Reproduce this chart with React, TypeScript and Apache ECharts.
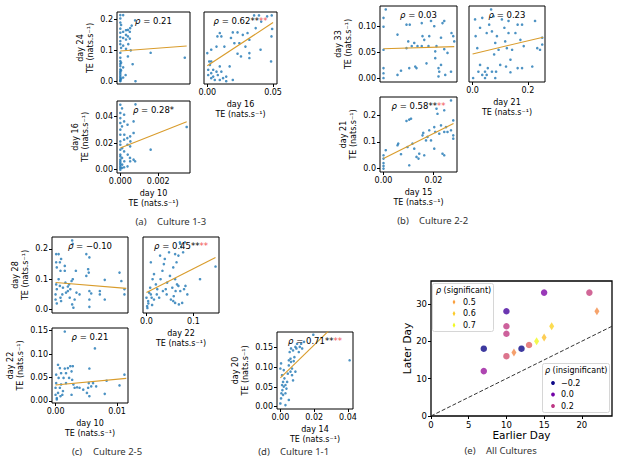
import React, { useEffect, useRef } from "react";
import * as echarts from "echarts";

const FONT = "DejaVu Sans";
const CAP_FONT = "Noto Sans";
const BLUE = "#1f77b4";
const FIT = "#d99c2c";
const RED = "#f25555";
const UNIT = "TE (nats.s\u207B\u00B9)";

// ---------- Culture 1-3 ----------
const c13_d10_d24: number[][] = [
  [0, 0.214], [0, 0.203], [0, 0.19], [0, 0.17], [0, 0.157], [0, 0.143], [0, 0.13], [0, 0.12],
  [0, 0.092], [0, 0.076], [0, 0.065], [0, 0.056], [0, 0.049], [0, 0.038], [0, 0.032], [0, 0.027],
  [0, 0.021], [0, 0.016], [0, 0.011], [0, 0.005], [0, 0.002], [0, 0.0],
  [0.00004, 0.182], [0.00004, 0.108], [0.00004, 0.06], [0.00004, 0.035], [0.00004, 0.008],
  [0.00015, 0.214], [0.00015, 0.16], [0.00015, 0.14], [0.00015, 0.115], [0.00015, 0.045], [0.00015, 0.012],
  [0.0003, 0.165], [0.0003, 0.15], [0.0003, 0.135], [0.0003, 0.105], [0.00028, 0.02],
  [0.0004, 0.166], [0.0004, 0.145], [0.00042, 0.12], [0.0004, 0.08],
  [0.0005, 0.16], [0.00052, 0.172], [0.0005, 0.138], [0.00055, 0.1],
  [0.00065, 0.055], [0.0006, 0.18], [0.00078, 0.197], [0.0008, 0.0],
  [0.0016, 0.092], [0.0034, 0.076],
];
const c13_d10_d24_fit: number[][] = [[0, 0.098], [0.0035, 0.114]];

const c13_d16_d24: number[][] = [
  [0.0356, 0.213], [0.0393, 0.213], [0.0455, 0.21], [0.049, 0.213], [0.041, 0.193], [0.0493, 0.169],
  [0.0095, 0.156], [0.0107, 0.145], [0.0077, 0.145], [0.0194, 0.158], [0.018, 0.14], [0.023, 0.158],
  [0.027, 0.15], [0.0306, 0.156], [0.0244, 0.123], [0.0206, 0.123], [0.029, 0.112], [0.032, 0.134],
  [0.0488, 0.145], [0.0405, 0.102], [0.0368, 0.172], [0.032, 0.091], [0.0256, 0.08], [0.023, 0.089],
  [0.017, 0.048], [0.032, 0.075], [0.007, 0.112], [0.013, 0.112], [0.003, 0.102], [0.0, 0.091],
  [0.0015, 0.064], [0.003, 0.064], [0.002, 0.053], [0.0007, 0.037], [0.003, 0.026], [0.0045, 0.015],
  [0.0007, 0.02], [0.0045, 0.037], [0.007, 0.031], [0.008, 0.02], [0.0095, 0.048], [0.0107, 0.031],
  [0.012, 0.01], [0.0144, 0.0], [0.0194, 0.004], [0.0057, 0.004], [0.0095, 0.004], [0.0485, 0.064],
  [0.003, 0.01], [0.0144, 0.015],
];
const c13_d16_d24_fit: number[][] = [[0, 0.05], [0.05, 0.19]];

const c13_d10_d16: number[][] = [
  [0, 0.0487], [0, 0.0425], [0, 0.0387], [0, 0.035], [0, 0.03], [0, 0.0262], [0, 0.0212], [0, 0.0187],
  [0, 0.015], [0, 0.0113], [0, 0.01], [0, 0.0075], [0, 0.0063], [0, 0.005], [0, 0.0038], [0, 0.0025],
  [0, 0.0013], [0, 0.0],
  [0.00009, 0.046], [0.00009, 0.0325], [0.0001, 0.0162], [0.00009, 0.0088], [0.0001, 0.0038], [0.00009, 0.0013],
  [0.0002, 0.0412], [0.0002, 0.0362], [0.00021, 0.0262], [0.0002, 0.0225], [0.0002, 0.0137], [0.00021, 0.0063], [0.0002, 0.0018],
  [0.00038, 0.0337], [0.00037, 0.0237], [0.00038, 0.0187], [0.00039, 0.0113], [0.00038, 0.0025],
  [0.00052, 0.025], [0.00053, 0.0212], [0.00052, 0.0175], [0.00051, 0.0088], [0.00052, 0.0063],
  [0.0007, 0.0362], [0.0007, 0.0275], [0.0007, 0.0075], [0.00078, 0.0063], [0.0008, 0.049],
  [0.0016, 0.015], [0.0035, 0.032],
];
const c13_d10_d16_fit: number[][] = [[0, 0.0162], [0.0035, 0.036]];

// ---------- Culture 2-2 ----------
const c22_d15_d33: number[][] = [
  [0.0009, 0.132], [0, 0.116], [0, 0.099], [0, 0.055], [0, 0.02], [0, 0.01], [0, 0.001],
  [0.0056, 0.084], [0.0056, 0.007], [0.007, 0.015], [0.0092, 0.103], [0.0105, 0.103], [0.0099, 0.071],
  [0.0092, 0.058], [0.0103, 0.02], [0.0113, 0.062], [0.0123, 0.068], [0.0127, 0.023], [0.0132, 0.02],
  [0.0136, 0.062], [0.0153, 0.106], [0.0156, 0.081], [0.0153, 0.062], [0.0163, 0.074], [0.0172, 0.029],
  [0.018, 0.062], [0.0183, 0.081], [0.019, 0.11], [0.0203, 0.1], [0.0212, 0.062], [0.0207, 0.052],
  [0.0207, 0.039], [0.022, 0.02], [0.0223, 0.013], [0.023, 0.078], [0.0236, 0.106], [0.0243, 0.11],
  [0.0243, 0.056], [0.0247, 0.007], [0.0256, 0.049], [0.027, 0.013], [0.0272, 0.087], [0.0279, 0.081],
  [0.0283, 0.071], [0.022, 0.004], [0.023, 0.026],
];
const c22_d15_d33_fit: number[][] = [[0, 0.057], [0.0283, 0.061]];

const c22_d21_d33: number[][] = [
  [0.002, 0.001], [0.009, 0.113], [0.011, 0.081], [0.017, 0.058], [0.027, 0.026], [0.027, 0.097],
  [0.035, 0.116], [0.067, 0.132], [0.076, 0.119], [0.06, 0.103], [0.07, 0.09], [0.051, 0.087],
  [0.045, 0.013], [0.051, 0.007], [0.055, 0.02], [0.045, 0.001], [0.088, 0.081], [0.078, 0.046],
  [0.082, 0.068], [0.094, 0.055], [0.085, 0.013], [0.106, 0.113], [0.115, 0.097], [0.118, 0.071],
  [0.124, 0.058], [0.13, 0.11], [0.13, 0.087], [0.137, 0.036], [0.143, 0.055], [0.137, 0.012],
  [0.155, 0.087], [0.163, 0.103], [0.173, 0.074], [0.179, 0.103], [0.185, 0.062], [0.163, 0.02],
  [0.179, 0.02], [0.216, 0.023], [0.226, 0.11], [0.234, 0.058], [0.244, 0.055], [0.252, 0.065],
  [0.252, 0.078], [0.021, 0.013], [0.035, 0.007], [0.121, 0.023], [0.1, 0.026], [0.07, 0.013],
  [0.082, 0.001],
];
const c22_d21_d33_fit: number[][] = [[0, 0.047], [0.255, 0.079]];

const c22_d15_d21: number[][] = [
  [0, 0.05], [0, 0.0375], [0, 0.021], [0, 0.01], [0, 0.0], [0.0009, 0.069], [0.0056, 0.0875],
  [0.0059, 0.094], [0.007, 0.054], [0.0092, 0.179], [0.0103, 0.184], [0.011, 0.1875], [0.0096, 0.081],
  [0.0103, 0.0125], [0.0116, 0.094], [0.0123, 0.075], [0.0132, 0.044], [0.014, 0.0375], [0.0143, 0.056],
  [0.0156, 0.125], [0.0159, 0.134], [0.0163, 0.05], [0.017, 0.106], [0.0176, 0.119], [0.0183, 0.144],
  [0.019, 0.106], [0.0203, 0.156], [0.0203, 0.075], [0.0207, 0.1375], [0.0212, 0.225], [0.0216, 0.206],
  [0.0223, 0.131], [0.023, 0.1625], [0.0236, 0.056], [0.0243, 0.05], [0.0243, 0.1375], [0.025, 0.156],
  [0.0256, 0.1375], [0.0243, 0.219], [0.027, 0.256], [0.0279, 0.181], [0.0279, 0.125], [0.0279, 0.1125],
  [0.027, 0.144],
];
const c22_d15_d21_fit: number[][] = [[0, 0.0375], [0.028, 0.169]];

// ---------- Culture 2-5 ----------
const c25_d10_d28: number[][] = [
  [0.0001, 0.183], [0.0001, 0.156], [0.0002, 0.139], [0.0001, 0.083], [0.0002, 0.067], [0, 0.05],
  [0, 0.033], [0.0002, 0.02], [0.0005, 0.183], [0.0007, 0.156], [0.0008, 0.128], [0.0009, 0.167],
  [0.0005, 0.1], [0.0007, 0.078], [0.0009, 0.028], [0.0011, 0.05], [0.0008, 0.039], [0.0012, 0.072],
  [0.0015, 0.144], [0.0015, 0.128], [0.0016, 0.089], [0.0017, 0.056], [0.002, 0.061], [0.002, 0.076],
  [0.0022, 0.083], [0.0023, 0.039], [0.0024, 0.067], [0.0026, 0.094], [0.0027, 0.228], [0.0028, 0.217],
  [0.0029, 0.006], [0.0027, 0.017], [0.0031, 0.033], [0.0034, 0.056], [0.0039, 0.05], [0.005, 0.183],
  [0.0055, 0.172], [0.0053, 0.133], [0.0054, 0.122], [0.005, 0.111], [0.0055, 0.061], [0.0055, 0.033],
  [0.0058, 0.053], [0.0055, 0.009], [0.0072, 0.061], [0.0072, 0.05], [0.008, 0.098], [0.008, 0.033],
  [0.0104, 0.122], [0.0107, 0.094], [0.0112, 0.05], [0.0112, 0.067], [0.0033, 0.128], [0.0028, 0.1],
];
const c25_d10_d28_fit: number[][] = [[0, 0.089], [0.0115, 0.07]];

const c25_d22_d28: number[][] = [
  [0.0, 0.039], [0.0036, 0.028], [0.0014, 0.011], [0.0057, 0.056], [0.0093, 0.05], [0.0093, 0.156],
  [0.0079, 0.072], [0.011, 0.039], [0.013, 0.1], [0.016, 0.033], [0.016, 0.117], [0.02, 0.083],
  [0.022, 0.05], [0.023, 0.067], [0.027, 0.039], [0.029, 0.178], [0.03, 0.1], [0.034, 0.128],
  [0.035, 0.061], [0.037, 0.15], [0.039, 0.167], [0.041, 0.067], [0.043, 0.05], [0.044, 0.089],
  [0.048, 0.189], [0.05, 0.111], [0.052, 0.033], [0.055, 0.072], [0.058, 0.044], [0.062, 0.061],
  [0.065, 0.083], [0.069, 0.017], [0.071, 0.222], [0.074, 0.206], [0.076, 0.022], [0.078, 0.189],
  [0.08, 0.067], [0.083, 0.078], [0.087, 0.05], [0.061, 0.183], [0.072, 0.217], [0.068, 0.178],
  [0.082, 0.222], [0.064, 0.156], [0.057, 0.139], [0.061, 0.1], [0.068, 0.078], [0.072, 0.061],
  [0.057, 0.028], [0.061, 0.022], [0.114, 0.1], [0.147, 0.142], [0.004, 0.02], [0.002, 0.005],
  [0.012, 0.015],
];
const c25_d22_d28_fit: number[][] = [[0, 0.056], [0.147, 0.172]];

const c25_d10_d22: number[][] = [
  [0, 0.013], [0, 0.028], [0.0001, 0.038], [0.0001, 0.056], [0.0002, 0.006], [0.0002, 0.003],
  [0.0004, 0.017], [0.0004, 0.077], [0.0005, 0.049], [0.0007, 0.028], [0.0007, 0.07], [0.0008, 0.01],
  [0.0009, 0.035], [0.0009, 0.059], [0.0011, 0.013], [0.0012, 0.021], [0.0013, 0.049], [0.0015, 0.069],
  [0.0015, 0.148], [0.0017, 0.038], [0.0017, 0.059], [0.002, 0.07], [0.0022, 0.049], [0.0024, 0.074],
  [0.0026, 0.063], [0.0027, 0.045], [0.0028, 0.074], [0.0029, 0.035], [0.0031, 0.028], [0.0026, 0.013],
  [0.0035, 0.029], [0.0039, 0.028], [0.0045, 0.024], [0.0051, 0.017], [0.0053, 0.028], [0.0054, 0.038],
  [0.0055, 0.069], [0.0055, 0.01], [0.0058, 0.031], [0.0061, 0.038], [0.0064, 0.112], [0.0066, 0.031],
  [0.008, 0.015], [0.0083, 0.043], [0.0104, 0.033], [0.0112, 0.056],
];
const c25_d10_d22_fit: number[][] = [[0, 0.034], [0.0115, 0.048]];

// ---------- Culture 1-1 ----------
const c11_d14_d20: number[][] = [
  [0, 0.008], [0.0004, 0.021], [0.0006, 0.034], [0.0012, 0.042], [0.001, 0.055], [0.0016, 0.063],
  [0, 0.097], [0.0004, 0.11], [0.002, 0.093], [0.001, 0.08], [0.0024, 0.072], [0.003, 0.055],
  [0.003, 0.034], [0.0036, 0.046], [0.004, 0.063], [0.0044, 0.084], [0.005, 0.105], [0.005, 0.118],
  [0.0055, 0.139], [0.006, 0.122], [0.0063, 0.114], [0.0069, 0.097], [0.0063, 0.148], [0.0075, 0.143],
  [0.0079, 0.116], [0.0083, 0.126], [0.0089, 0.152], [0.0095, 0.148], [0.0099, 0.16], [0.0109, 0.139],
  [0.0115, 0.152], [0.0123, 0.16], [0.0129, 0.148], [0.0069, 0.08], [0.0075, 0.067], [0.005, 0.017],
  [0.003, 0.004], [0.002, 0.051], [0.0016, 0.03], [0.0089, 0.089], [0.006, 0.089], [0.0195, 0.183],
  [0.041, 0.118], [0.014, 0.165],
];
const c11_d14_d20_fit: number[][] = [[0, 0.073], [0.041, 0.245]];

// ---------- All cultures ----------
// [earlier day, later day, rho]
const significantPairs: number[][] = [
  [11, 17, 0.44], [14, 20, 0.71], [15, 21, 0.58], [16, 24, 0.62], [22, 28, 0.45],
];
const insignificantPairs: number[][] = [
  [7, 18, -0.2], [12, 18, -0.2], [10, 28, -0.1], [15, 33, 0.03], [7, 12, 0.1],
  [10, 24, 0.21], [10, 22, 0.21], [10, 16, 0.28], [21, 33, 0.23], [13, 19, 0.34],
];
const diagonal: number[][] = [[0, 0], [24, 24]];
const sigLegend = [0.5, 0.6, 0.7];
const sigLegendLabels = ["0.5", "0.6", "0.7"];
const insigLegend = [-0.2, 0.0, 0.2];
const insigLegendLabels = ["\u22120.2", "0.0", "0.2"];
const eXTicks = [0, 5, 10, 15, 20];
const eYTicks = [0, 10, 20, 30];

const PLASMA = [
  "#0d0887", "#41049d", "#6a00a8", "#8f0da4", "#b12a90", "#cc4778",
  "#e16462", "#f2844b", "#fca636", "#fcce25", "#f0f921",
];
const RHO_MIN = -0.2;
const RHO_MAX = 0.7;

function plasma(v: number): string {
  let t = (v - RHO_MIN) / (RHO_MAX - RHO_MIN);
  t = Math.max(0, Math.min(1, t));
  const pos = t * (PLASMA.length - 1);
  const i = Math.min(PLASMA.length - 2, Math.floor(pos));
  const f = pos - i;
  const a = PLASMA[i], b = PLASMA[i + 1];
  const ch = (s: string, k: number) => parseInt(s.slice(1 + 2 * k, 3 + 2 * k), 16);
  const c = [0, 1, 2].map((k) => Math.round(ch(a, k) + (ch(b, k) - ch(a, k)) * f));
  return `rgb(${c[0]},${c[1]},${c[2]})`;
}

type Panel = {
  box: [number, number, number, number];
  xr: [number, number];
  yr: [number, number];
  xt?: number[];
  xl?: string[];
  yt?: number[];
  yl?: string[];
  xName?: string;
  yName?: string;
  yGap?: number;
  pts: number[][];
  fit: number[][];
  rho: string;
  stars?: string;
};

const panels: Panel[] = [
  { box: [117, 12, 190, 84], xr: [-0.000175, 0.003675], yr: [-0.009, 0.224], yt: [0, 0.1, 0.2], yl: ["0.0", "0.1", "0.2"],
    yName: "day 24\n" + UNIT, yGap: 22, pts: c13_d10_d24, fit: c13_d10_d24_fit, rho: " = 0.21" },
  { box: [204, 12, 277, 84], xr: [-0.0025, 0.053], yr: [-0.009, 0.224], xt: [0, 0.05], xl: ["0.00", "0.05"],
    xName: "day 16\n" + UNIT, pts: c13_d16_d24, fit: c13_d16_d24_fit, rho: " = 0.62**", stars: "**" },
  { box: [117, 101, 190, 173], xr: [-0.000175, 0.003675], yr: [-0.0025, 0.0515], xt: [0, 0.002], xl: ["0.000", "0.002"],
    yt: [0, 0.02, 0.04], yl: ["0.00", "0.02", "0.04"], xName: "day 10\n" + UNIT, yName: "day 16\n" + UNIT, yGap: 27,
    pts: c13_d10_d16, fit: c13_d10_d16_fit, rho: " = 0.28*" },
  { box: [380, 6, 457, 82], xr: [-0.0014, 0.0294], yr: [-0.0066, 0.1386], yt: [0, 0.05, 0.1], yl: ["0.00", "0.05", "0.10"],
    yName: "day 33\n" + UNIT, yGap: 27, pts: c22_d15_d33, fit: c22_d15_d33_fit, rho: " = 0.03" },
  { box: [469, 6, 545, 82], xr: [-0.013, 0.262], yr: [-0.0066, 0.1386], xt: [0, 0.2], xl: ["0.0", "0.2"],
    xName: "day 21\n" + UNIT, pts: c22_d21_d33, fit: c22_d21_d33_fit, rho: " = 0.23" },
  { box: [380, 97, 457, 172], xr: [-0.0014, 0.0294], yr: [-0.0128, 0.269], xt: [0, 0.02], xl: ["0.00", "0.02"],
    yt: [0, 0.1, 0.2], yl: ["0.0", "0.1", "0.2"], xName: "day 15\n" + UNIT, yName: "day 21\n" + UNIT, yGap: 22,
    pts: c22_d15_d21, fit: c22_d15_d21_fit, rho: " = 0.58**", stars: "**" },
  { box: [52, 237, 128, 313], xr: [-0.00058, 0.01178], yr: [-0.0114, 0.2394], yt: [0, 0.1, 0.2], yl: ["0.0", "0.1", "0.2"],
    yName: "day 28\n" + UNIT, yGap: 22, pts: c25_d10_d28, fit: c25_d10_d28_fit, rho: " = \u22120.10" },
  { box: [143, 237, 219, 313], xr: [-0.0074, 0.1544], yr: [-0.0114, 0.2394], xt: [0, 0.1], xl: ["0.0", "0.1"],
    xName: "day 22\n" + UNIT, pts: c25_d22_d28, fit: c25_d22_d28_fit, rho: " = 0.45**", stars: "**" },
  { box: [52, 328, 128, 403], xr: [-0.00058, 0.01178], yr: [-0.0045, 0.1555], xt: [0, 0.01], xl: ["0.00", "0.01"],
    yt: [0, 0.05, 0.1, 0.15], yl: ["0.00", "0.05", "0.10", "0.15"], xName: "day 10\n" + UNIT, yName: "day 22\n" + UNIT,
    yGap: 27, pts: c25_d10_d22, fit: c25_d10_d22_fit, rho: " = 0.21" },
  { box: [277, 332, 353, 409], xr: [-0.002, 0.043], yr: [-0.006, 0.19], xt: [0, 0.02, 0.04], xl: ["0.00", "0.02", "0.04"],
    yt: [0, 0.05, 0.1, 0.15], yl: ["0.00", "0.05", "0.10", "0.15"], xName: "day 14\n" + UNIT, yName: "day 20\n" + UNIT,
    yGap: 27, pts: c11_d14_d20, fit: c11_d14_d20_fit, rho: " = 0.71**", stars: "**" },
];

const captions = [
  { tag: "(a)", text: "Culture 1-3", x: 141, y: 221 },
  { tag: "(b)", text: "Culture 2-2", x: 403, y: 220 },
  { tag: "(c)", text: "Culture 2-5", x: 77, y: 451 },
  { tag: "(d)", text: "Culture 1-1", x: 264, y: 451 },
  { tag: "(e)", text: "All Cultures", x: 470, y: 450 },
];

const EBOX: [number, number, number, number] = [431, 281, 612, 416];

function labelFmt(ticks: number[], labels: string[]) {
  return (v: number) => {
    const k = ticks.findIndex((t) => Math.abs(t - v) < 1e-9);
    return k >= 0 ? labels[k] : "";
  };
}

const tickText = { fontFamily: FONT, fontSize: 8, color: "#000" };
const nameText = { fontFamily: FONT, fontSize: 8, color: "#000", lineHeight: 10 };

function buildOption() {
  const grid: any[] = [];
  const xAxis: any[] = [];
  const yAxis: any[] = [];
  const series: any[] = [];
  const graphic: any[] = [];

  const allBoxes = [...panels.map((p) => p.box), EBOX];
  allBoxes.forEach((b, i) => {
    grid.push({
      left: b[0], top: b[1], width: b[2] - b[0], height: b[3] - b[1],
      show: true, borderColor: "#000", borderWidth: i === panels.length ? 1.3 : 1,
      backgroundColor: "rgba(0,0,0,0)",
    });
  });

  panels.forEach((p, i) => {
    xAxis.push({
      type: "value", gridIndex: i, min: p.xr[0], max: p.xr[1],
      axisLine: { show: false, onZero: false }, splitLine: { show: false },
      axisTick: p.xt ? { show: true, customValues: p.xt, length: 3, lineStyle: { color: "#000", width: 1 } } : { show: false },
      axisLabel: p.xt ? { show: true, customValues: p.xt, formatter: labelFmt(p.xt, p.xl!), margin: 4, ...tickText } : { show: false },
      name: p.xName, nameLocation: "middle", nameGap: 15, nameTextStyle: nameText,
    });
    yAxis.push({
      type: "value", gridIndex: i, min: p.yr[0], max: p.yr[1],
      axisLine: { show: false, onZero: false }, splitLine: { show: false },
      axisTick: p.yt ? { show: true, customValues: p.yt, length: 3, lineStyle: { color: "#000", width: 1 } } : { show: false },
      axisLabel: p.yt ? { show: true, customValues: p.yt, formatter: labelFmt(p.yt, p.yl!), margin: 4, ...tickText } : { show: false },
      name: p.yName, nameLocation: "middle", nameRotate: 90, nameGap: p.yGap ?? 22, nameTextStyle: nameText,
    });
    series.push({
      type: "scatter", xAxisIndex: i, yAxisIndex: i, data: p.pts, symbolSize: 2.6,
      itemStyle: { color: BLUE }, silent: true,
    });
    series.push({
      type: "line", xAxisIndex: i, yAxisIndex: i, data: p.fit, symbol: "none", showSymbol: false,
      lineStyle: { color: FIT, width: 1.1 }, clip: true, silent: true, z: 3,
    });
    const cx = (p.box[0] + p.box[2]) / 2;
    const cy = p.box[1] + 9;
    graphic.push({
      type: "text", x: cx, y: cy, z: 10,
      style: {
        text: "{i|\u03C1}{n|" + p.rho + "}" + (p.stars ? "{r|" + p.stars + "}" : ""),
        align: "center", verticalAlign: "middle",
        rich: {
          i: { fontFamily: FONT, fontSize: 8.5, fontStyle: "italic", fill: "#000" },
          n: { fontFamily: FONT, fontSize: 8.5, fill: "#000" },
          r: { fontFamily: FONT, fontSize: 8.5, fill: RED },
        },
      },
    });
  });

  // Panel (e)
  const ei = panels.length;
  xAxis.push({
    type: "value", gridIndex: ei, min: 0, max: 24,
    axisLine: { show: false, onZero: false }, splitLine: { show: false },
    axisTick: { show: true, customValues: eXTicks, length: 3, lineStyle: { color: "#000" } },
    axisLabel: { show: true, customValues: eXTicks, formatter: (v: number) => String(v), margin: 4, ...tickText, fontSize: 8.5 },
    name: "Earlier Day", nameLocation: "middle", nameGap: 13,
    nameTextStyle: { fontFamily: FONT, fontSize: 10.5, color: "#000" },
  });
  yAxis.push({
    type: "value", gridIndex: ei, min: 0, max: 36.1,
    axisLine: { show: false, onZero: false }, splitLine: { show: false },
    axisTick: { show: true, customValues: eYTicks, length: 3, lineStyle: { color: "#000" } },
    axisLabel: { show: true, customValues: eYTicks, formatter: (v: number) => String(v), margin: 4, ...tickText, fontSize: 8.5 },
    name: "Later Day", nameLocation: "middle", nameRotate: 90, nameGap: 17,
    nameTextStyle: { fontFamily: FONT, fontSize: 10.5, color: "#000" },
  });
  series.push({
    type: "line", xAxisIndex: ei, yAxisIndex: ei, data: diagonal, symbol: "none",
    lineStyle: { color: "#333", width: 1, type: [4, 2] }, silent: true,
  });
  const circIdx = series.length;
  series.push({
    type: "scatter", xAxisIndex: ei, yAxisIndex: ei, data: insignificantPairs, symbol: "circle",
    symbolSize: 6.5, silent: true, z: 4,
  });
  const diaIdx = series.length;
  series.push({
    type: "scatter", xAxisIndex: ei, yAxisIndex: ei, data: significantPairs, symbol: "diamond",
    symbolSize: [5, 8], silent: true, z: 4,
  });

  // Legends for (e)
  graphic.push({
    type: "rect", shape: { x: 432.5, y: 283.5, width: 61, height: 48, r: 2 },
    style: { fill: "rgba(255,255,255,0.85)", stroke: "#d6d6d6", lineWidth: 1 }, z: 5,
  });
  graphic.push({
    type: "text", x: 436, y: 290, z: 6,
    style: {
      text: "{i|\u03C1}{n| (significant)}", align: "left", verticalAlign: "middle",
      rich: {
        i: { fontFamily: FONT, fontSize: 8, fontStyle: "italic", fill: "#000" },
        n: { fontFamily: FONT, fontSize: 8, fill: "#000" },
      },
    },
  });
  sigLegend.forEach((v, k) => {
    const y = 302 + k * 11.6;
    graphic.push({
      type: "polygon", z: 6,
      shape: { points: [[454, y - 2.6], [455.4, y], [454, y + 2.6], [452.6, y]] },
      style: { fill: plasma(v) },
    });
    graphic.push({
      type: "text", x: 463, y, z: 6,
      style: { text: sigLegendLabels[k], fontFamily: FONT, fontSize: 8, fill: "#000", align: "left", verticalAlign: "middle" },
    });
  });
  graphic.push({
    type: "rect", shape: { x: 542.5, y: 363.5, width: 67, height: 49, r: 2 },
    style: { fill: "rgba(255,255,255,0.85)", stroke: "#d6d6d6", lineWidth: 1 }, z: 5,
  });
  graphic.push({
    type: "text", x: 545, y: 370, z: 6,
    style: {
      text: "{i|\u03C1}{n| (insignificant)}", align: "left", verticalAlign: "middle",
      rich: {
        i: { fontFamily: FONT, fontSize: 8, fontStyle: "italic", fill: "#000" },
        n: { fontFamily: FONT, fontSize: 8, fill: "#000" },
      },
    },
  });
  insigLegend.forEach((v, k) => {
    const y = 383 + k * 11.5;
    graphic.push({
      type: "circle", z: 6, shape: { cx: 553, cy: y, r: 1.9 }, style: { fill: plasma(v) },
    });
    graphic.push({
      type: "text", x: 561, y, z: 6,
      style: { text: insigLegendLabels[k], fontFamily: FONT, fontSize: 8, fill: "#000", align: "left", verticalAlign: "middle" },
    });
  });

  captions.forEach((c) => {
    graphic.push({
      type: "text", x: c.x, y: c.y,
      style: { text: c.tag, fontFamily: CAP_FONT, fontSize: 9.5, fill: "#333", align: "center", verticalAlign: "middle" },
    });
    graphic.push({
      type: "text", x: c.x + 16, y: c.y,
      style: { text: c.text, fontFamily: CAP_FONT, fontSize: 9.5, fill: "#333", align: "left", verticalAlign: "middle" },
    });
  });

  return {
    animation: false,
    backgroundColor: "#fff",
    grid, xAxis, yAxis, series, graphic,
    visualMap: {
      show: false, type: "continuous", min: RHO_MIN, max: RHO_MAX, dimension: 2,
      seriesIndex: [circIdx, diaIdx], inRange: { color: PLASMA },
    },
  };
}

export default function App() {
  const ref = useRef<HTMLDivElement>(null);
  useEffect(() => {
    const chart = echarts.init(ref.current!, null, { renderer: "svg" });
    chart.setOption(buildOption() as any);
    return () => chart.dispose();
  }, []);
  return (
    <div
      ref={ref}
      style={{ position: "absolute", left: 0, top: 0, width: 617, height: 459, background: "#fff" }}
    />
  );
}
